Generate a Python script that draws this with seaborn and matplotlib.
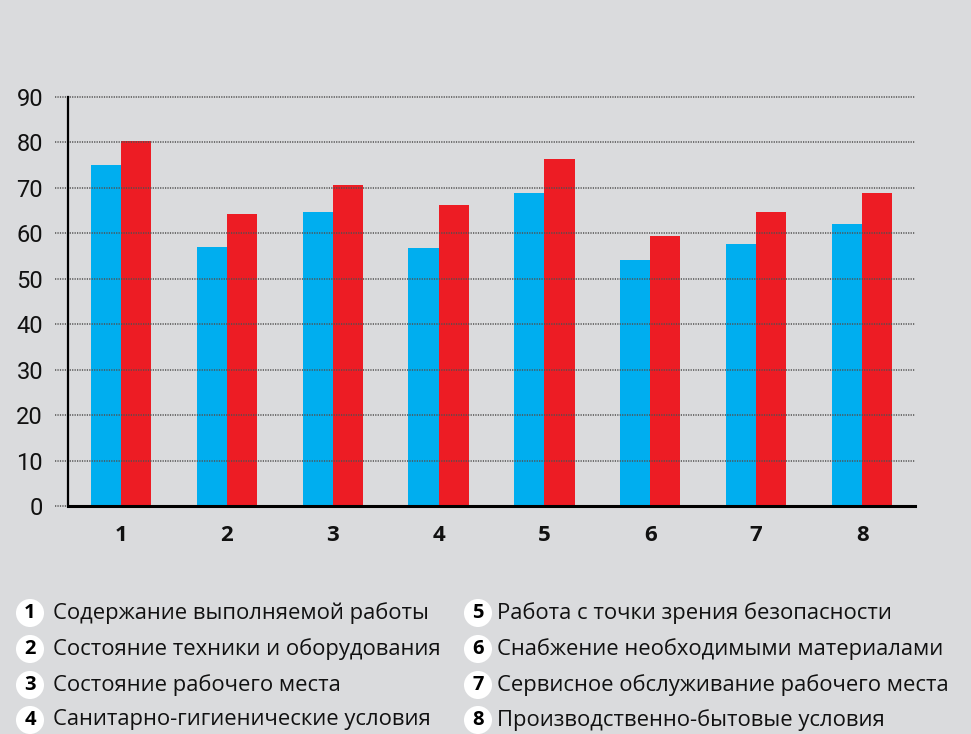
import seaborn as sns
import matplotlib.pyplot as plt
import pandas as pd

groups = ['1', '2', '3', '4', '5', '6', '7', '8']
blue_vals = [75, 57, 64.8, 56.7, 68.8, 54.1, 57.6, 62]
red_vals = [80.4, 64.2, 70.7, 66.2, 76.3, 59.5, 64.8, 68.8]
series = ['A', 'B']
yticks = [0, 10, 20, 30, 40, 50, 60, 70, 80, 90]
legend_labels = [
    'Содержание выполняемой работы',
    'Состояние техники и оборудования',
    'Состояние рабочего места',
    'Санитарно-гигиенические условия',
    'Работа с точки зрения безопасности',
    'Снабжение необходимыми материалами',
    'Сервисное обслуживание рабочего места',
    'Производственно-бытовые условия',
]

bg = '#dadbdd'
sns.set_theme(style='white', rc={'figure.facecolor': bg, 'axes.facecolor': bg})
plt.rcParams['font.family'] = ['Open Sans', 'DejaVu Sans']

df = pd.DataFrame({
    'group': groups * 2,
    'value': blue_vals + red_vals,
    'series': [series[0]] * len(groups) + [series[1]] * len(groups),
})

fig = plt.figure(figsize=(9.71, 7.34), dpi=100)
ax = fig.add_axes([68 / 971, (734 - 506) / 734, (915 - 68) / 971, (506 - 97) / 734])
sns.barplot(data=df, x='group', y='value', hue='series', order=groups,
            palette=['#00aeef', '#ed1c24'], width=0.57, saturation=1,
            linewidth=0, edgecolor='none', legend=False, ax=ax)

ax.set_xlim(-0.5, len(groups) - 0.5)
ax.set_ylim(0, 90)
ax.set_yticks(yticks)
ax.set_xlabel('')
ax.set_ylabel('')

for v in yticks:
    ax.axhline(v, xmin=-13 / 847, xmax=1, color='#505050', lw=1.1,
               ls=(0, (0.8, 0.8)), clip_on=False, zorder=5)

for s in ['top', 'right']:
    ax.spines[s].set_visible(False)
ax.spines['left'].set_linewidth(1.6)
ax.spines['left'].set_color('black')
ax.spines['bottom'].set_linewidth(2.2)
ax.spines['bottom'].set_color('black')
ax.spines['bottom'].set_zorder(6)
ax.spines['left'].set_zorder(6)

ax.tick_params(axis='y', length=0, pad=18, labelsize=17, labelcolor='#111111')
ax.tick_params(axis='x', length=0, pad=14, labelsize=16, labelcolor='#111111')
for lab in ax.get_yticklabels():
    lab.set_fontfamily(['Liberation Sans Narrow', 'Roboto', 'DejaVu Sans'])
    lab.set_fontstretch('condensed')
for lab in ax.get_xticklabels():
    lab.set_fontweight('bold')

rows = [613, 649, 685, 720]
for i, text in enumerate(legend_labels):
    col = i // 4
    row = i % 4
    cx = [30, 478][col]
    tx = [53, 497][col]
    y = 1 - rows[row] / 734
    fig.text(cx / 971, y, str(i + 1), ha='center', va='center', fontsize=14.5,
             fontweight='bold', color='black',
             bbox=dict(boxstyle='circle,pad=0.2', fc='white', ec='none'))
    fig.text(tx / 971, y, text, ha='left', va='center', fontsize=15.8,
             color='#111111')

fig.savefig('out.png', dpi=100, facecolor=bg)
